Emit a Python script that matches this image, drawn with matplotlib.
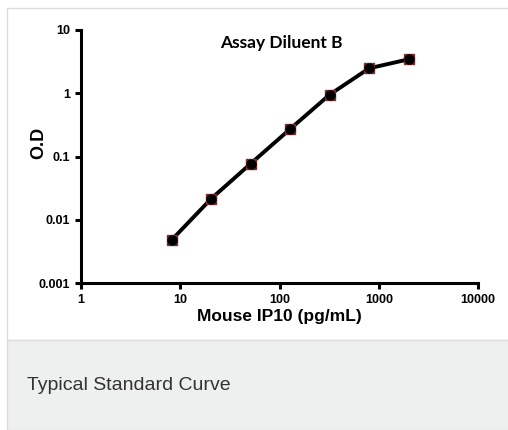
import matplotlib
matplotlib.use("Agg")
import matplotlib.pyplot as plt
from matplotlib.patches import Rectangle
from matplotlib.ticker import FixedLocator, FixedFormatter, NullLocator

conc = [8.2, 20.5, 51.2, 128, 320, 800, 2000]
od = [0.0048, 0.0215, 0.077, 0.272, 0.95, 2.48, 3.44]
xticks = [1, 10, 100, 1000, 10000]
xlabels = ["1", "10", "100", "1000", "10000"]
yticks = [0.001, 0.01, 0.1, 1, 10]
ylabels = ["0.001", "0.01", "0.1", "1", "10"]

W, H = 508, 430
fig = plt.figure(figsize=(W / 100, H / 100), dpi=100)
fig.patch.set_facecolor("white")

# card border and caption area
fig.patches.append(Rectangle((6.5 / W, 1 - 340 / H), 1.0, (340 - 7.5) / H,
                             transform=fig.transFigure, facecolor="white",
                             edgecolor="#dddddd", linewidth=1.0, zorder=-2))
fig.patches.append(Rectangle((6.5 / W, 0), 1.0, (430 - 340) / H,
                             transform=fig.transFigure, facecolor="#eef0ef",
                             edgecolor="#dddddd", linewidth=1.0, zorder=-2))
fig.text(27 / W, 1 - 385 / H, "Typical Standard Curve", fontsize=14,
         family="Liberation Sans", color="#333333", va="center", ha="left")

ax = fig.add_axes([81 / W, 1 - 283 / H, (478 - 81) / W, (283 - 30) / H])
ax.set_zorder(2)
ax.set_facecolor("none")
ax.set_xscale("log")
ax.set_yscale("log")
ax.set_xlim(1, 10000)
ax.set_ylim(0.001, 10)

ax.plot(conc, od, color="black", linewidth=2.8, zorder=3)
ax.plot(conc, od, linestyle="none", marker="s", markersize=7.5,
        markerfacecolor="#7a2e2e", markeredgecolor="#7a2e2e", zorder=4)
ax.plot(conc, od, linestyle="none", marker="o", markersize=6.5,
        markerfacecolor="black", markeredgecolor="black", zorder=5)

for s in ["top", "right"]:
    ax.spines[s].set_visible(False)
for s in ["left", "bottom"]:
    ax.spines[s].set_linewidth(2.2)

ax.xaxis.set_major_locator(FixedLocator(xticks))
ax.xaxis.set_major_formatter(FixedFormatter(xlabels))
ax.yaxis.set_major_locator(FixedLocator(yticks))
ax.yaxis.set_major_formatter(FixedFormatter(ylabels))
ax.xaxis.set_minor_locator(NullLocator())
ax.yaxis.set_minor_locator(NullLocator())
ax.tick_params(axis="both", which="major", direction="out", length=4,
               width=2.2, labelsize=9, pad=4)
for lab in ax.get_xticklabels() + ax.get_yticklabels():
    lab.set_fontweight("bold")
    lab.set_family("Liberation Sans")

ax.set_xlabel("Mouse IP10 (pg/mL)", fontsize=12.5, fontweight="bold",
              family="Liberation Sans", labelpad=2)
ax.set_ylabel("O.D", fontsize=13, fontweight="bold",
              family="Liberation Sans")
ax.yaxis.set_label_coords(-0.0856, 0.553)
ax.text(0.505, 0.95, "Assay Diluent B", transform=ax.transAxes,
        fontsize=12.5, fontweight="bold", family="Lato", ha="center", va="center")

fig.savefig("out.png", dpi=100)
